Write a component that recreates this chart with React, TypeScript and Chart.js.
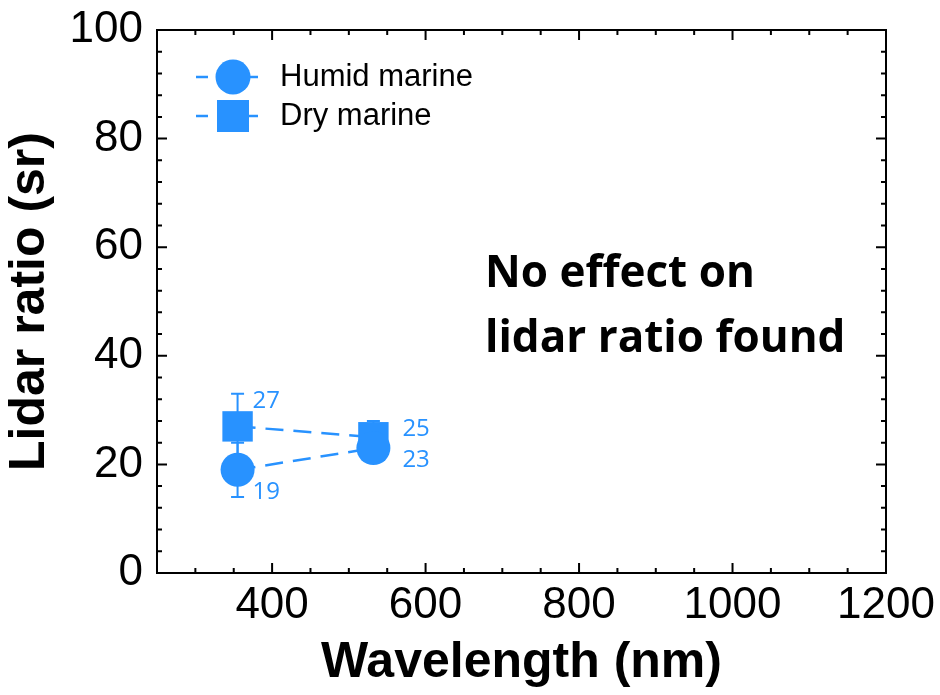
import React, { useEffect, useRef } from 'react';
import { Chart, registerables } from 'chart.js';

Chart.register(...registerables);

// ---------- data ----------
const WAVELENGTHS = [355, 532];
const SERIES_NAMES = ['Humid marine', 'Dry marine'];
const HUMID = [19, 23];
const HUMID_ERR = [5, 2];
const DRY = [27, 25];
const DRY_ERR = [6, 3];
const X_TICKS = [400, 600, 800, 1000, 1200];
const Y_TICKS = [0, 20, 40, 60, 80, 100];
const X_MIN = 250;
const X_MAX = 1200;
const Y_MIN = 0;
const Y_MAX = 100;
const X_MINOR_STEP = 50;
const Y_MINOR_STEP = 4;
const X_TITLE = 'Wavelength (nm)';
const Y_TITLE = 'Lidar ratio (sr)';
const NOTE_LINES = ['No effect on', 'lidar ratio found'];

// ---------- style ----------
const BLUE = 'rgb(40,146,255)';
const ARIAL = '"Liberation Sans", Arial, sans-serif';
const CALIBRI = '"Open Sans", "Noto Sans", sans-serif';
// label offsets (px) per series, per point
const LABEL_OFFSETS = [
  [[15, 22], [29, 12]],
  [[15, -25], [29, -8]],
];

const errorBarPlugin = {
  id: 'errorBars',
  beforeDatasetsDraw(chart: any) {
    const { ctx, scales } = chart;
    const y = scales.y;
    chart.data.datasets.forEach((ds: any, di: number) => {
      const meta = chart.getDatasetMeta(di);
      ctx.save();
      ctx.strokeStyle = ds.borderColor;
      ctx.lineWidth = 2;
      meta.data.forEach((pt: any, i: number) => {
        const v = ds.data[i].y;
        const e = ds.errors[i];
        const yTop = y.getPixelForValue(v + e);
        const yBot = y.getPixelForValue(v - e);
        const cap = 6.5;
        ctx.beginPath();
        ctx.moveTo(pt.x, yTop);
        ctx.lineTo(pt.x, yBot);
        ctx.moveTo(pt.x - cap, yTop);
        ctx.lineTo(pt.x + cap, yTop);
        ctx.moveTo(pt.x - cap, yBot);
        ctx.lineTo(pt.x + cap, yBot);
        ctx.stroke();
      });
      ctx.restore();
    });
  },
};

const labelPlugin = {
  id: 'valueLabels',
  afterDatasetsDraw(chart: any) {
    const { ctx } = chart;
    ctx.save();
    ctx.font = `24px ${CALIBRI}`;
    ctx.textAlign = 'left';
    ctx.textBaseline = 'middle';
    chart.data.datasets.forEach((ds: any, di: number) => {
      const meta = chart.getDatasetMeta(di);
      ctx.fillStyle = ds.borderColor;
      meta.data.forEach((pt: any, i: number) => {
        const [dx, dy] = LABEL_OFFSETS[di][i];
        ctx.fillText(String(ds.data[i].y), pt.x + dx, pt.y + dy);
      });
    });
    ctx.restore();
  },
};

const framePlugin = {
  id: 'frameTicks',
  afterDraw(chart: any) {
    const { ctx, chartArea, scales } = chart;
    const { left, right, top, bottom } = chartArea;
    const x = scales.x;
    const y = scales.y;
    ctx.save();
    ctx.strokeStyle = '#000';
    ctx.lineWidth = 2;
    ctx.strokeRect(left, top, right - left, bottom - top);
    ctx.beginPath();
    for (let v = X_MIN; v <= X_MAX; v += X_MINOR_STEP) {
      const px = x.getPixelForValue(v);
      const len = X_TICKS.includes(v) ? 10 : 5;
      ctx.moveTo(px, bottom);
      ctx.lineTo(px, bottom - len);
      ctx.moveTo(px, top);
      ctx.lineTo(px, top + len);
    }
    for (let v = Y_MIN; v <= Y_MAX; v += Y_MINOR_STEP) {
      const py = y.getPixelForValue(v);
      const len = Y_TICKS.includes(v) ? 10 : 5;
      ctx.moveTo(left, py);
      ctx.lineTo(left + len, py);
      ctx.moveTo(right, py);
      ctx.lineTo(right - len, py);
    }
    Y_TICKS.forEach((v) => {
      const py = y.getPixelForValue(v);
      ctx.moveTo(left, py);
      ctx.lineTo(left + 10, py);
      ctx.moveTo(right, py);
      ctx.lineTo(right - 10, py);
    });
    ctx.stroke();
    ctx.restore();
  },
};

const legendPlugin = {
  id: 'customLegend',
  afterDraw(chart: any) {
    const { ctx, chartArea } = chart;
    const { left, top } = chartArea;
    ctx.save();
    chart.data.datasets.forEach((ds: any, di: number) => {
      const cx = left + 76;
      const cy = top + 47 + di * 39;
      ctx.strokeStyle = ds.borderColor;
      ctx.lineWidth = 2.5;
      ctx.beginPath();
      ctx.moveTo(cx - 37, cy);
      ctx.lineTo(cx - 25, cy);
      ctx.moveTo(cx + 14, cy);
      ctx.lineTo(cx + 25, cy);
      ctx.stroke();
      ctx.fillStyle = ds.backgroundColor;
      ctx.beginPath();
      if (ds.pointStyle === 'circle') {
        ctx.arc(cx, cy, 17.5, 0, Math.PI * 2);
      } else {
        ctx.rect(cx - 16, cy - 16, 32, 32);
      }
      ctx.fill();
      ctx.fillStyle = '#000';
      ctx.font = `31px ${ARIAL}`;
      ctx.textAlign = 'left';
      ctx.textBaseline = 'middle';
      ctx.fillText(ds.label, left + 123, cy);
    });
    ctx.restore();
  },
};

const notePlugin = {
  id: 'note',
  afterDraw(chart: any) {
    const { ctx, chartArea } = chart;
    const { left, top } = chartArea;
    ctx.save();
    ctx.fillStyle = '#000';
    ctx.font = `bold 44px ${CALIBRI}`;
    ctx.textAlign = 'left';
    ctx.textBaseline = 'alphabetic';
    NOTE_LINES.forEach((line, i) => {
      ctx.fillText(line, left + 328, top + 257 + i * 65);
    });
    ctx.restore();
  },
};

export default function App() {
  const canvasRef = useRef<HTMLCanvasElement | null>(null);

  useEffect(() => {
    if (!canvasRef.current) return;
    const chart = new Chart(canvasRef.current, {
      type: 'line',
      data: {
        datasets: [
          {
            label: SERIES_NAMES[0],
            data: WAVELENGTHS.map((w, i) => ({ x: w, y: HUMID[i] })),
            errors: HUMID_ERR,
            borderColor: BLUE,
            backgroundColor: BLUE,
            borderWidth: 2.5,
            borderDash: [18, 10],
            pointStyle: 'circle',
            pointRadius: 17,
            pointBorderWidth: 0,
            pointBackgroundColor: BLUE,
            pointBorderColor: BLUE,
            fill: false,
          } as any,
          {
            label: SERIES_NAMES[1],
            data: WAVELENGTHS.map((w, i) => ({ x: w, y: DRY[i] })),
            errors: DRY_ERR,
            borderColor: BLUE,
            backgroundColor: BLUE,
            borderWidth: 2.5,
            borderDash: [18, 10],
            pointStyle: 'rect',
            pointRadius: 21.5,
            pointBorderWidth: 0,
            pointBackgroundColor: BLUE,
            pointBorderColor: BLUE,
            fill: false,
          } as any,
        ],
      },
      options: {
        animation: false,
        responsive: true,
        maintainAspectRatio: false,
        layout: { padding: { top: 30, right: 54, left: 0, bottom: 0 } },
        plugins: {
          legend: { display: false },
          tooltip: { enabled: false },
        },
        scales: {
          x: {
            type: 'linear',
            min: X_MIN,
            max: X_MAX,
            grid: { display: false, drawTicks: false },
            border: { display: false },
            afterBuildTicks: (s: any) => {
              s.ticks = X_TICKS.map((v) => ({ value: v }));
            },
            afterFit: (s: any) => {
              s.height = 122;
              s.paddingLeft = 0;
              s.paddingRight = 0;
            },
            ticks: {
              font: { family: ARIAL, size: 44 },
              color: '#000',
              padding: 6,
              maxRotation: 0,
              autoSkip: false,
              callback: (v: any) => String(v),
            },
            title: {
              display: true,
              text: X_TITLE,
              color: '#000',
              font: { family: ARIAL, size: 50, weight: 'bold' },
              padding: { top: 0, bottom: 2 },
            },
          },
          y: {
            type: 'linear',
            min: Y_MIN,
            max: Y_MAX,
            grid: { display: false, drawTicks: false },
            border: { display: false },
            afterBuildTicks: (s: any) => {
              s.ticks = Y_TICKS.map((v) => ({ value: v }));
            },
            afterFit: (s: any) => {
              s.width = 157;
              s.paddingTop = 0;
              s.paddingBottom = 0;
            },
            ticks: {
              font: { family: ARIAL, size: 44 },
              color: '#000',
              padding: 14,
              autoSkip: false,
              callback: (v: any) => String(v),
            },
            title: {
              display: true,
              text: Y_TITLE,
              color: '#000',
              font: { family: ARIAL, size: 50, weight: 'bold' },
              padding: { top: 0, bottom: 0 },
            },
          },
        },
      } as any,
      plugins: [errorBarPlugin, framePlugin, labelPlugin, legendPlugin, notePlugin],
    });
    return () => chart.destroy();
  }, []);

  return (
    <div style={{ position: 'absolute', left: 0, top: 0, width: 940, height: 695, background: '#fff' }}>
      <canvas ref={canvasRef} />
    </div>
  );
}
